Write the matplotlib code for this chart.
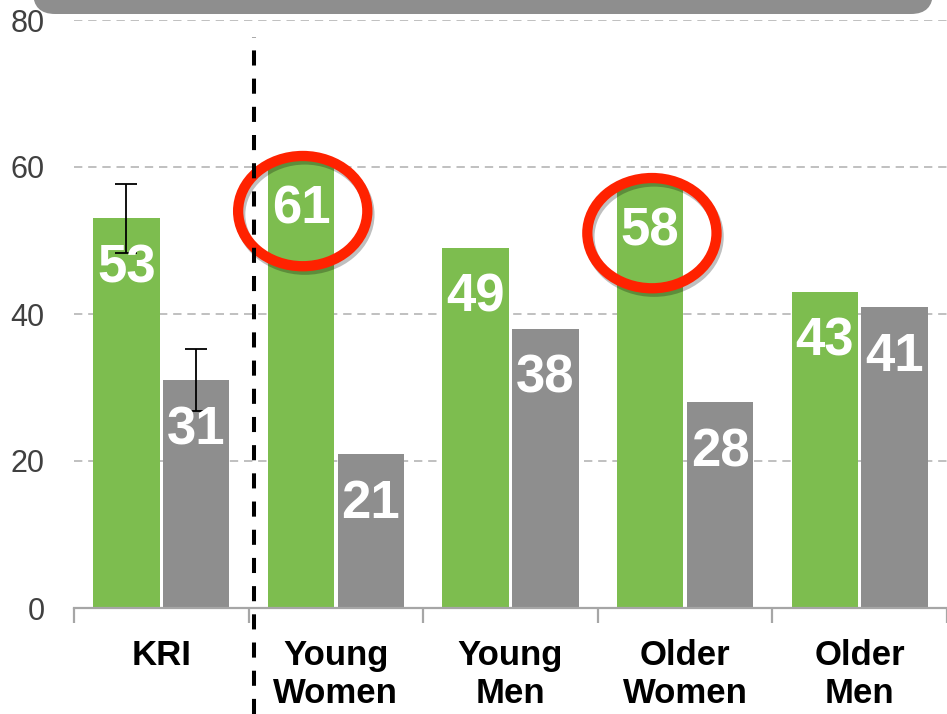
import matplotlib
matplotlib.use('Agg')
import matplotlib.pyplot as plt
import matplotlib.patheffects as pe
from matplotlib.patches import Ellipse, FancyBboxPatch
from matplotlib.lines import Line2D
from matplotlib.transforms import blended_transform_factory, IdentityTransform
import numpy as np

# ---- data ----
categories = ['KRI', 'Young\nWomen', 'Young\nMen', 'Older\nWomen', 'Older\nMen']
green_vals = [53, 61, 49, 58, 43]
gray_vals = [31, 21, 38, 28, 41]
kri_green_err = 4.7
kri_gray_err = 4.2
highlighted = [1, 3]          # indices of circled green bars
yticks = [0, 20, 40, 60, 80]

GREEN = '#7DBD4F'
GRAY = '#8E8E8E'
RED = '#FF2200'

plt.rcParams['font.family'] = ['Liberation Sans', 'DejaVu Sans']

fig = plt.figure(figsize=(9.47, 7.14), dpi=100)
W, H = 947, 714
left_px, unit_px = 74, 177
ax = fig.add_axes([left_px / W, 106 / H, 1 - left_px / W, (608 - 20) / H])

x = np.arange(len(categories))
off, bw = 0.2, 0.38
ax.bar(x - off, green_vals, bw, color=GREEN, zorder=2)
ax.bar(x + off, gray_vals, bw, color=GRAY, zorder=2)

# error bars for KRI only
ax.errorbar([x[0] - off], [green_vals[0]], yerr=[kri_green_err], fmt='none',
            ecolor='black', elinewidth=1.3, capsize=8, capthick=1.3, zorder=3)
ax.errorbar([x[0] + off], [gray_vals[0]], yerr=[kri_gray_err], fmt='none',
            ecolor='black', elinewidth=1.3, capsize=8, capthick=1.3, zorder=3)

# value labels
for xi, v in zip(x - off, green_vals):
    ax.annotate(f'{v}', (xi, v), xytext=(0, -36), textcoords='offset points',
                ha='center', va='center', color='white', fontsize=38,
                fontweight='bold', zorder=4)
for xi, v in zip(x + off, gray_vals):
    ax.annotate(f'{v}', (xi, v), xytext=(0, -36), textcoords='offset points',
                ha='center', va='center', color='white', fontsize=38,
                fontweight='bold', zorder=4)

# red highlight ellipses
for i in highlighted:
    e = Ellipse((x[i] - off + 0.01, green_vals[i] - 7.0), 0.74, 15.0,
                fill=False, edgecolor=RED, lw=7.4, zorder=5, clip_on=False,
                path_effects=[pe.SimpleLineShadow(offset=(1.5, -2.5),
                                                  shadow_color='black', alpha=0.25),
                              pe.Normal()])
    ax.add_patch(e)

ax.set_xlim(-0.5, (W - left_px) / unit_px - 0.5)
ax.set_ylim(0, 80)

# axes styling
for s in ['top', 'right', 'left']:
    ax.spines[s].set_visible(False)
ax.spines['bottom'].set_color('#A6A6A6')
ax.spines['bottom'].set_linewidth(1.6)

ax.set_yticks(yticks)
ax.set_yticklabels([str(t) for t in yticks])
ax.tick_params(axis='y', length=0, pad=21, labelsize=22, labelcolor='#404040')
ax.yaxis.grid(True, linestyle=(0, (5, 3.5)), color='#B5B5B5', linewidth=1.2, zorder=0)
ax.set_axisbelow(True)

ax.set_xticks(x)
ax.set_xticklabels(categories, fontsize=25, fontweight='bold', linespacing=1.2)
ax.tick_params(axis='x', which='major', length=0, pad=22)
ax.set_xticks(np.arange(len(categories) + 1) - 0.5, minor=True)
ax.tick_params(axis='x', which='minor', length=11, width=1.6, color='#A6A6A6')

# vertical dashed separator
trans = blended_transform_factory(ax.transData, fig.transFigure)
fig.add_artist(Line2D([0.53, 0.53], [0, 1 - 37 / H], transform=trans,
                      color='black', lw=2.9, linestyle=(0, (3.75, 3.25)), zorder=6))

# gray rounded box at top (partially visible)
box = FancyBboxPatch((33, H - 14), 900, 80, boxstyle='round,pad=0,rounding_size=22',
                     transform=IdentityTransform(), facecolor='#8E8E8E',
                     edgecolor='none')
fig.add_artist(box)

fig.savefig('out.png', dpi=100)
